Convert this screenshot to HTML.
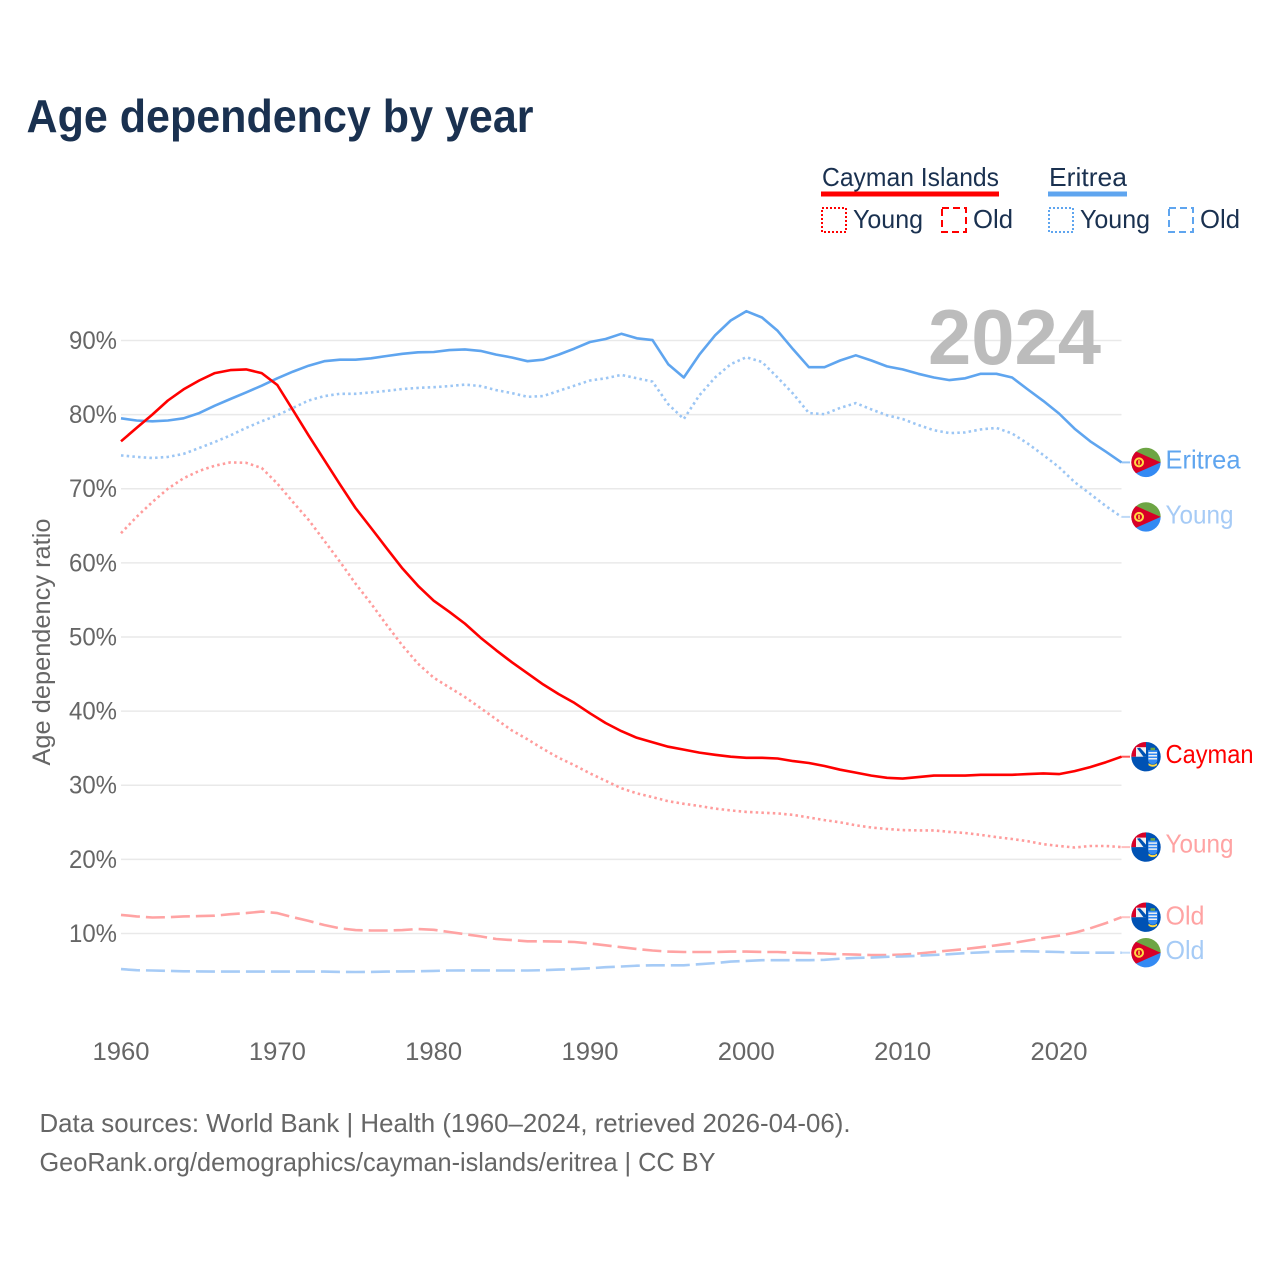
<!DOCTYPE html>
<html lang="en">
<head>
<meta charset="utf-8">
<title>Age dependency by year</title>
<style>
html,body{margin:0;padding:0;background:#fff;width:1280px;height:1280px;overflow:hidden}
svg{display:block}
text{font-family:"Liberation Sans",sans-serif}
</style>
</head>
<body>
<svg id="chart" xmlns="http://www.w3.org/2000/svg" width="1280" height="1280" viewBox="0 0 1280 1280">
  <defs>
    <clipPath id="flag-clip"><circle cx="0" cy="0" r="14.7"/></clipPath>
    <g id="flag-eritrea" clip-path="url(#flag-clip)">
      <rect x="-15" y="-15" width="30" height="15" fill="#6da544"/>
      <rect x="-15" y="0" width="30" height="15" fill="#338af3"/>
      <polygon points="-17,-14 14.700,0 -17,14" fill="#d80027"/>
      <circle cx="-7" cy="0" r="4" fill="none" stroke="#ffda44" stroke-width="2"/>
      <rect x="-7.800" y="-2.200" width="1.600" height="4.400" fill="#ffda44"/>
    </g>
    <g id="flag-cayman" clip-path="url(#flag-clip)">
      <rect x="-15" y="-15" width="30" height="30" fill="#0052b4"/>
      <rect x="-15" y="-15" width="15" height="15" fill="#f0f0f0"/>
      <rect x="-15" y="-15" width="15" height="5.500" fill="#d80027"/>
      <rect x="-15" y="-15" width="5" height="15" fill="#d80027"/>
      <polygon points="-9,-8.500 -6,-9 0,-2.500 0,0 -2.500,0" fill="#0052b4"/>
      <path d="M2-6.500h9.500v9c0 3-2 5-4.750 5S2 5.500 2 2.500z" fill="#338af3"/>
      <path d="M2.500-4h8.500M2.500-1h8.500M2.500 2h8.500" stroke="#f0f0f0" stroke-width="1.500"/>
      <path d="M2.500 6.500q4.250 3 8.500 0v2q-4.250 3-8.500 0z" fill="#ffda44"/>
      <rect x="4.500" y="-9" width="4.500" height="2.500" fill="#6da544"/>
    </g>
  </defs>

  <rect x="0" y="0" width="1280" height="1280" fill="#ffffff"/>

  <text x="26.500" y="132" font-size="46" font-weight="700" fill="#1a3150" textLength="507" lengthAdjust="spacingAndGlyphs">Age dependency by year</text>

  <g font-size="26" fill="#1a3150">
    <g>
      <text x="822" y="186" textLength="177" lengthAdjust="spacingAndGlyphs">Cayman Islands</text>
      <rect x="821" y="191.500" width="178" height="5" fill="#ff0000"/>
      <rect x="822" y="208" width="24" height="24" fill="none" stroke="#ff0000" stroke-width="2" stroke-dasharray="2 2"/>
      <text x="853" y="228" textLength="70" lengthAdjust="spacingAndGlyphs">Young</text>
      <rect x="942" y="208" width="24" height="24" fill="none" stroke="#ff0000" stroke-width="2" stroke-dasharray="7 4"/>
      <text x="973" y="228" textLength="40" lengthAdjust="spacingAndGlyphs">Old</text>
    </g>
    <g>
      <text x="1049" y="186" textLength="78" lengthAdjust="spacingAndGlyphs">Eritrea</text>
      <rect x="1048" y="191.500" width="79" height="5" fill="#5fa5ef"/>
      <rect x="1049" y="208" width="24" height="24" fill="none" stroke="#5fa5ef" stroke-width="2" stroke-dasharray="2 2"/>
      <text x="1080" y="228" textLength="70" lengthAdjust="spacingAndGlyphs">Young</text>
      <rect x="1169" y="208" width="24" height="24" fill="none" stroke="#5fa5ef" stroke-width="2" stroke-dasharray="7 4"/>
      <text x="1200" y="228" textLength="40" lengthAdjust="spacingAndGlyphs">Old</text>
    </g>
  </g>

  <g id="grid"></g>
  <g id="y-axis"></g>
  <g id="x-axis"></g>

  <text x="928" y="364" font-size="78" font-weight="700" fill="#bcbcbc" textLength="173" lengthAdjust="spacingAndGlyphs">2024</text>

  <text transform="translate(50 642) rotate(-90)" text-anchor="middle" font-size="25" fill="#666666" textLength="247" lengthAdjust="spacingAndGlyphs">Age dependency ratio</text>

  <g id="series"></g>
  <g id="end-labels"></g>

  <text x="39.500" y="1132" font-size="26" fill="#666666" textLength="811" lengthAdjust="spacingAndGlyphs">Data sources: World Bank | Health (1960–2024, retrieved 2026-04-06).</text>
  <text x="39.500" y="1171" font-size="26" fill="#666666" textLength="676" lengthAdjust="spacingAndGlyphs">GeoRank.org/demographics/cayman-islands/eritrea | CC BY</text>
</svg>

<script>
const years = [1960,1961,1962,1963,1964,1965,1966,1967,1968,1969,1970,1971,1972,1973,1974,1975,1976,1977,1978,1979,1980,1981,1982,1983,1984,1985,1986,1987,1988,1989,1990,1991,1992,1993,1994,1995,1996,1997,1998,1999,2000,2001,2002,2003,2004,2005,2006,2007,2008,2009,2010,2011,2012,2013,2014,2015,2016,2017,2018,2019,2020,2021,2022,2023,2024];
const xTicks = [1960,1970,1980,1990,2000,2010,2020];
const yTicks = [10,20,30,40,50,60,70,80,90];

const eritreaTotal = [79.5,79.2,79.1,79.2,79.5,80.2,81.2,82.1,83.0,83.9,84.9,85.8,86.6,87.2,87.4,87.4,87.6,87.9,88.2,88.4,88.45,88.7,88.8,88.6,88.1,87.7,87.2,87.4,88.1,88.9,89.8,90.2,90.9,90.3,90.05,86.8,85.0,88.1,90.7,92.7,93.95,93.1,91.3,88.8,86.4,86.4,87.3,88.0,87.3,86.5,86.1,85.5,85.0,84.65,84.9,85.5,85.5,85.0,83.4,81.85,80.15,78.1,76.4,75.0,73.55];
const eritreaYoung = [74.5,74.3,74.15,74.3,74.7,75.5,76.3,77.2,78.2,79.1,79.9,80.9,81.9,82.5,82.8,82.8,83.0,83.2,83.45,83.6,83.7,83.85,84.05,83.85,83.3,82.9,82.4,82.5,83.2,83.9,84.6,84.9,85.35,84.9,84.45,81.4,79.4,82.6,85.0,86.8,87.75,87.1,85.0,82.8,80.2,80.05,80.9,81.55,80.7,79.9,79.4,78.6,77.9,77.5,77.6,78.0,78.2,77.45,76.1,74.55,72.9,70.9,69.3,67.65,66.2];
const eritreaOld = [5.2,5.05,5.0,4.95,4.9,4.88,4.85,4.85,4.85,4.85,4.85,4.85,4.85,4.85,4.82,4.8,4.82,4.85,4.88,4.9,4.95,5.0,5.02,5.02,5.0,5.0,5.0,5.05,5.12,5.2,5.3,5.45,5.55,5.65,5.7,5.7,5.7,5.85,6.0,6.2,6.3,6.4,6.4,6.4,6.4,6.45,6.6,6.7,6.75,6.85,6.9,7.0,7.1,7.2,7.35,7.45,7.55,7.6,7.6,7.55,7.5,7.4,7.4,7.4,7.4];
const caymanTotal = [76.4,78.2,80.0,81.9,83.4,84.6,85.6,86.0,86.1,85.6,84.0,80.6,77.2,73.9,70.6,67.4,64.7,61.95,59.25,56.9,54.9,53.4,51.8,49.9,48.2,46.6,45.1,43.6,42.3,41.1,39.7,38.4,37.3,36.4,35.8,35.2,34.8,34.4,34.1,33.85,33.7,33.7,33.6,33.25,33.0,32.6,32.1,31.7,31.3,31.0,30.9,31.1,31.3,31.3,31.3,31.4,31.4,31.4,31.5,31.6,31.5,31.9,32.45,33.1,33.85];
const caymanYoung = [64.0,66.2,68.2,70.0,71.4,72.4,73.1,73.55,73.5,72.8,70.7,68.2,65.8,63.0,60.15,57.2,54.5,51.6,48.85,46.4,44.5,43.2,41.9,40.4,38.9,37.4,36.2,34.9,33.7,32.7,31.6,30.6,29.6,28.9,28.4,27.85,27.5,27.2,26.85,26.6,26.4,26.3,26.2,26.0,25.65,25.3,25.0,24.6,24.3,24.1,23.95,23.9,23.9,23.7,23.55,23.3,23.0,22.75,22.45,22.05,21.8,21.6,21.8,21.8,21.65];
const caymanOld = [12.5,12.3,12.15,12.2,12.3,12.35,12.4,12.6,12.75,12.95,12.75,12.2,11.7,11.15,10.7,10.45,10.4,10.4,10.45,10.6,10.5,10.2,9.9,9.6,9.25,9.1,8.95,8.95,8.9,8.85,8.65,8.4,8.15,7.9,7.7,7.55,7.5,7.5,7.5,7.55,7.55,7.5,7.5,7.4,7.35,7.3,7.2,7.15,7.1,7.1,7.15,7.3,7.5,7.7,7.9,8.15,8.4,8.7,9.05,9.4,9.7,10.1,10.7,11.4,12.2];

const NS = 'http://www.w3.org/2000/svg';
const x = year => 121 + (year - 1960) * 15.633;
const y = value => 1007.6 - value * 7.4125;
const FLAG_X = 1146;
const CONNECTOR_END = 1130;

function make(tag, attrs, parent, text) {
  const el = document.createElementNS(NS, tag);
  for (const k in attrs) el.setAttribute(k, attrs[k]);
  if (text !== undefined) el.textContent = text;
  parent.appendChild(el);
  return el;
}

const grid = document.getElementById('grid');
const yAxis = document.getElementById('y-axis');
const xAxis = document.getElementById('x-axis');
const seriesGroup = document.getElementById('series');
const labelGroup = document.getElementById('end-labels');

yTicks.forEach(t => {
  const line = make('line', {x1: x(1960), x2: x(2024), y1: y(t), y2: y(t), stroke: '#e9e9e9', 'stroke-width': 1.5}, grid);
  
  
  const label = make('text', {x: 117, y: y(t) + 8.5, 'text-anchor': 'end', 'font-size': 25, fill: '#666666', textLength: 48, lengthAdjust: 'spacingAndGlyphs'}, yAxis, t + '%');
  
  
});

xTicks.forEach(t => {
  const label = make('text', {x: x(t), y: 1060, 'text-anchor': 'middle', 'font-size': 25, fill: '#666666', textLength: 57, lengthAdjust: 'spacingAndGlyphs'}, xAxis, String(t));
  
  
});

function drawLine(values, color, dash, name) {
  const pts = values.map((v, i) => x(years[i]).toFixed(1) + ',' + y(v).toFixed(1));
  const attrs = {d: 'M' + pts.join('L'), fill: 'none', stroke: color, 'stroke-width': 2.6, 'stroke-linejoin': 'round'};
  if (dash) attrs['stroke-dasharray'] = dash;
  const path = make('path', attrs, seriesGroup);
  
  
  const lastY = y(values[values.length - 1]).toFixed(1);
  const link = make('line', {x1: x(2024), x2: CONNECTOR_END, y1: lastY, y2: lastY, stroke: color, 'stroke-width': 2, opacity: 0.65}, seriesGroup);
  
  
}

drawLine(caymanOld, '#ffa3a3', '19 6', 'line-cayman-old');
drawLine(eritreaOld, '#a6cbf6', '19 6', 'line-eritrea-old');
drawLine(caymanYoung, '#ff9c9c', '2.5 3.2', 'line-cayman-young');
drawLine(eritreaYoung, '#9cc6f4', '2.5 3.2', 'line-eritrea-young');
drawLine(eritreaTotal, '#5fa5ef', null, 'line-eritrea-total');
drawLine(caymanTotal, '#ff0000', null, 'line-cayman-total');

function drawEnd(values, flag, text, color, width, labelDy, name) {
  const cy = y(values[values.length - 1]);
  const use = make('use', {href: '#' + flag, transform: 'translate(' + FLAG_X + ' ' + cy.toFixed(1) + ')'}, labelGroup);
  
  
  const label = make('text', {x: 1165.5, y: (cy + labelDy).toFixed(1), 'font-size': 26, fill: color, textLength: width, lengthAdjust: 'spacingAndGlyphs'}, labelGroup, text);
  
  
}

drawEnd(eritreaTotal, 'flag-eritrea', 'Eritrea', '#5fa5ef', 75, 6, 'end-eritrea-total');
drawEnd(eritreaYoung, 'flag-eritrea', 'Young', '#a6cbf6', 68, 6.5, 'end-eritrea-young');
drawEnd(caymanTotal, 'flag-cayman', 'Cayman', '#ff0000', 88, 6.5, 'end-cayman-total');
drawEnd(caymanYoung, 'flag-cayman', 'Young', '#ffa3a3', 68, 5.5, 'end-cayman-young');
drawEnd(caymanOld, 'flag-cayman', 'Old', '#ffa3a3', 39, 7.5, 'end-cayman-old');
drawEnd(eritreaOld, 'flag-eritrea', 'Old', '#a6cbf6', 39, 6.5, 'end-eritrea-old');
</script>
</body>
</html>
